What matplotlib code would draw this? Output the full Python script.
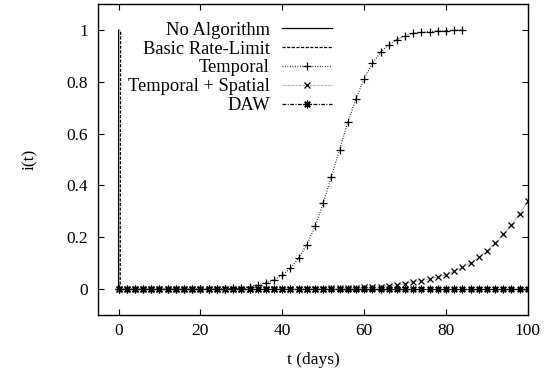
import matplotlib
matplotlib.use("Agg")
import matplotlib.pyplot as plt
import numpy as np

plt.rcParams['font.family'] = ['Liberation Serif', 'DejaVu Serif']
plt.rcParams['font.size'] = 12.5

# donnees (t en jours, i(t) fraction infectee)
no_algo_t = [0.0, 0.02, 0.05]
no_algo_i = [0.0, 0.99, 1.0]

basic_t = [0.0, 0.4, 0.5]
basic_i = [0.0, 0.02, 1.0]

temporal_t = list(range(0, 86, 2))
temporal_i = [0, 0, 0, 0, 0, 0, 0, 0, 0, 0,
              0, 0, 0, 0.001, 0.002, 0.004, 0.009, 0.017, 0.024, 0.036,
              0.053, 0.080, 0.120, 0.171, 0.242, 0.331, 0.434, 0.538, 0.644, 0.734,
              0.812, 0.871, 0.914, 0.943, 0.963, 0.978, 0.987, 0.991, 0.994, 0.996,
              0.998, 0.999, 1.0]

spatial_t = list(range(0, 102, 2))
spatial_i = [0, 0, 0, 0, 0, 0, 0, 0, 0, 0,
             0, 0, 0, 0, 0, 0, 0, 0, 0, 0,
             0, 0, 0, 0, 0, 0.001, 0.002, 0.003, 0.004, 0.005,
             0.006, 0.007, 0.009, 0.012, 0.016, 0.020, 0.027, 0.032, 0.038, 0.047,
             0.055, 0.069, 0.084, 0.101, 0.122, 0.148, 0.177, 0.211, 0.249, 0.291,
             0.338]

daw_t = list(range(0, 102, 2))
daw_i = [0.0] * len(daw_t)

xticks = [0, 20, 40, 60, 80, 100]
yticks = [0, 0.2, 0.4, 0.6, 0.8, 1]
ytick_labels = ['0', '0.2', '0.4', '0.6', '0.8', '1']

fig = plt.figure(figsize=(5.51, 3.74), dpi=100)
ax = fig.add_axes([0.178, 0.158, 0.780, 0.831])

ax.plot(no_algo_t, no_algo_i, '-', color='black', lw=0.9, label='No Algorithm')
ax.plot(basic_t, basic_i, color='black', lw=0.9, dashes=(2.5, 1.2), label='Basic Rate-Limit')
ax.plot(temporal_t, temporal_i, color='black', lw=0.9, dashes=(0.6, 1.4),
        marker='+', ms=5.5, mew=0.9, label='Temporal')
ax.plot(spatial_t, spatial_i, color='#888888', lw=0.9, dashes=(0.5, 0.6),
        marker='x', ms=4.5, mew=0.9, mec='black', label='Temporal + Spatial')
ax.plot(daw_t, daw_i, color='black', lw=0.9, dashes=(3, 1.2, 0.8, 1.2),
        marker=(8, 2, 0), ms=5.5, mew=0.9, label='DAW')

ax.set_xlim(-5, 100)
ax.set_ylim(-0.1, 1.1)
ax.set_xticks(xticks)
ax.set_yticks(yticks)
ax.set_yticklabels(ytick_labels)
ax.tick_params(direction='in', length=4, width=0.8, top=True, right=True, pad=6)
ax.tick_params(axis='y', pad=7)
for s in ax.spines.values():
    s.set_linewidth(1.0)

ax.set_xlabel('t (days)', labelpad=9)
ax.set_ylabel('i(t)', labelpad=21)

leg = ax.legend(loc='upper right', bbox_to_anchor=(0.574, 0.985), frameon=False,
                markerfirst=False, handlelength=2.7, labelspacing=0.1,
                handletextpad=0.65, borderpad=0.2, fontsize=13.3)

fig.savefig('out.png', dpi=100)
